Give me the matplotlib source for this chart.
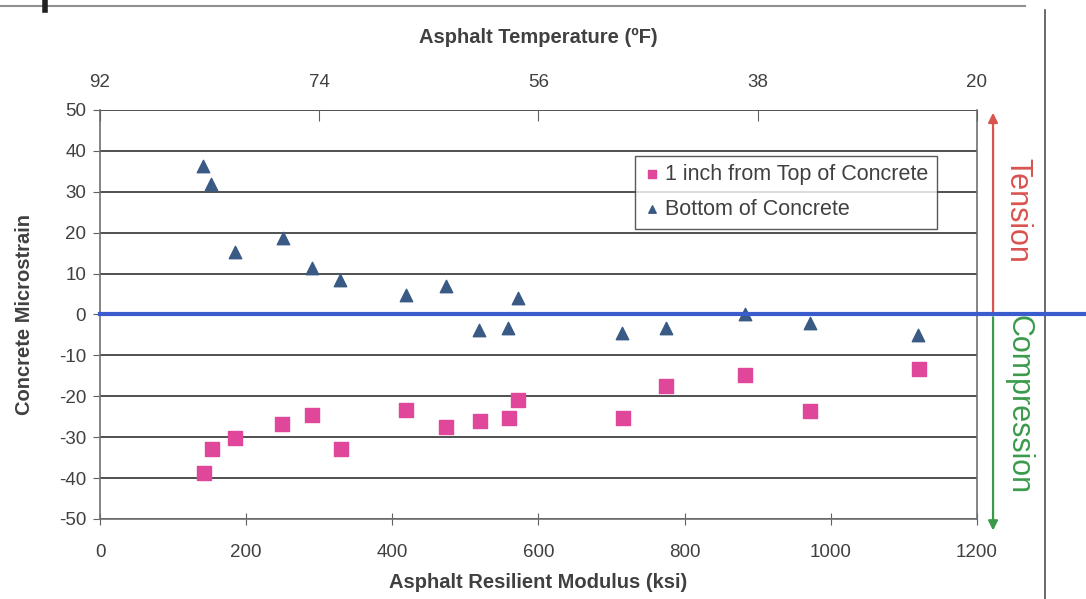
import matplotlib.pyplot as plt
import matplotlib.transforms as mtransforms
from matplotlib.lines import Line2D

plt.rcParams['axes.unicode_minus'] = False

# Asphalt resilient modulus (ksi) and concrete microstrain
modulus_bottom = [141, 152, 185, 250, 290, 328, 419, 473, 518, 558, 572, 714, 774, 882, 971, 1119]
strain_bottom = [36.3, 31.9, 15.3, 18.7, 11.4, 8.4, 4.8, 7.0, -3.8, -3.3, 4.0, -4.5, -3.3, 0.0, -2.1, -5.0]

modulus_top = [142, 153, 185, 249, 290, 330, 419, 473, 520, 560, 572, 715, 774, 882, 972, 1120]
strain_top = [-38.8, -33.0, -30.2, -26.7, -24.5, -33.0, -23.3, -27.5, -26.0, -25.3, -20.9, -25.3, -17.5, -14.7, -23.6, -13.3]

temp_ticks = [92, 74, 56, 38, 20]
x_ticks = [0, 200, 400, 600, 800, 1000, 1200]
y_ticks = list(range(-50, 51, 10))

narrow = ['Liberation Sans Narrow', 'Liberation Sans', 'DejaVu Sans']
bold = ['Liberation Sans', 'DejaVu Sans']
txt = '#404040'

fig = plt.figure(figsize=(10.86, 5.99), dpi=100)
ax = fig.add_axes([0.0921, 0.1336, 0.8075, 0.6828])

for y in y_ticks:
    ax.axhline(y, color='#202020', lw=1.1, zorder=1)

ax.scatter(modulus_top, strain_top, marker='s', s=95, color='#e0479b', zorder=3,
           label='1 inch from Top of Concrete')
ax.scatter(modulus_bottom, strain_bottom, marker='^', s=80, color='#3a5a86', zorder=3,
           label='Bottom of Concrete')

ax.set_xlim(0, 1200)
ax.set_ylim(-50, 50)
ax.set_xticks(x_ticks)
ax.set_yticks(y_ticks)
for lbl in ax.get_xticklabels() + ax.get_yticklabels():
    lbl.set_family(narrow)
    lbl.set_fontsize(13.5)
    lbl.set_color(txt)
ax.tick_params(axis='x', direction='inout', length=8, color='#606060', pad=14)
ax.tick_params(axis='y', direction='out', length=5, color='#606060', pad=5)

for side in ['left', 'right', 'bottom']:
    ax.spines[side].set_color('#707070')
    ax.spines[side].set_linewidth(1.2)
ax.spines['top'].set_visible(False)

ax.set_xlabel('Asphalt Resilient Modulus (ksi)', family=bold, fontweight='bold',
              fontsize=14.5, color=txt, labelpad=9)
ax.set_ylabel('Concrete Microstrain', family=bold, fontweight='bold',
              fontsize=14.5, color=txt, labelpad=18)

# secondary x axis for temperature
ax2 = ax.twiny()
ax2.set_xlim(0, 4)
ax2.set_xticks(range(len(temp_ticks)))
ax2.set_xticklabels([str(t) for t in temp_ticks], family=narrow, fontsize=13.5, color=txt)
ax2.tick_params(axis='x', direction='in', length=8, color='#606060', pad=14)
for side in ['left', 'right', 'bottom', 'top']:
    ax2.spines[side].set_visible(False)
ax2.set_xlabel('Asphalt Temperature (ºF)', family=bold, fontweight='bold',
               fontsize=14.5, color=txt, labelpad=22)

leg = ax.legend(loc='upper left', bbox_to_anchor=(0.598, 0.915), frameon=True, fancybox=False,
                edgecolor='#303030', handletextpad=0.2, borderpad=0.4,
                labelspacing=0.65, markerscale=0.6, handlelength=0.8,
                prop={'family': bold, 'size': 15.5})
leg.get_frame().set_linewidth(1.0)
for t in leg.get_texts():
    t.set_color(txt)

# zero line running off to the right edge
blend = mtransforms.blended_transform_factory(fig.transFigure, ax.transData)
fig.add_artist(Line2D([0.0921, 1.0], [0, 0], transform=blend, color='#3b5ccc', lw=3, zorder=4))

# tension / compression arrows
ax.annotate('', xy=(1222, 50), xytext=(1222, 0), annotation_clip=False,
            arrowprops=dict(arrowstyle='-|>', color='#d9534f', lw=1.6, mutation_scale=14))
ax.annotate('', xy=(1222, -53.5), xytext=(1222, 0), annotation_clip=False,
            arrowprops=dict(arrowstyle='-|>', color='#3a9a4a', lw=1.6, mutation_scale=14))
ax.text(1255, 25.5, 'Tension', rotation=-90, ha='center', va='center', fontsize=22,
        color='#d9534f', family=bold, clip_on=False)
ax.text(1257, -22, 'Compression', rotation=-90, ha='center', va='center', fontsize=22,
        color='#3a9a4a', family=bold, clip_on=False)

# slide frame pieces
fig.add_artist(Line2D([0, 1025 / 1086], [1 - 6 / 599, 1 - 6 / 599], transform=fig.transFigure,
                      color='#909090', lw=1.5))
fig.add_artist(Line2D([45 / 1086, 45 / 1086], [1, 1 - 10 / 599], transform=fig.transFigure,
                      color='#202020', lw=4))
fig.add_artist(Line2D([1045 / 1086, 1045 / 1086], [1 - 10 / 599, 0], transform=fig.transFigure,
                      color='#505050', lw=1.2))

fig.savefig('out.png', dpi=100)
